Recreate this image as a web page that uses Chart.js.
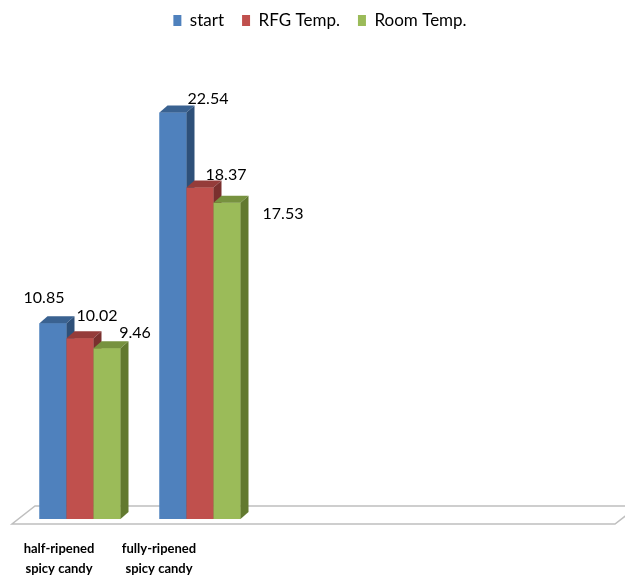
<!DOCTYPE html>
<html lang="en">
<head>
    <meta charset="UTF-8">
    <title>Spicy candy</title>
    <script src="https://cdn.jsdelivr.net/npm/chart.js"></script>
    <style>
        body {
            margin: 0;
            padding: 0;
            background: #fff;
        }

        .chart-box {
            width: 625px;
            height: 575px;
        }
    </style>
</head>
<body>
<div class="chart-box">
    <canvas id="candy-chart" width="625" height="575"></canvas>
</div>

<script>
    // data
    const categories = [['half-ripened', 'spicy candy'], ['fully-ripened', 'spicy candy'], '', '', ''];
    const seriesNames = ['start', 'RFG Temp.', 'Room Temp.'];
    const startValues = [10.85, 22.54];
    const rfgValues = [10.02, 18.37];
    const roomValues = [9.46, 17.53];

    const frontColors = ['#4F81BD', '#C0504D', '#9BBB59'];
    const topColors = ['#3A6291', '#953C3A', '#77923F'];
    const sideColors = ['#2E5079', '#7A302E', '#62792F'];

    // where Excel put the value labels, relative to the bar top
    const labelOffsets = [
        [[-9, -25], [35, -14]],
        [[17, -22], [26, -13]],
        [[28, -15], [56, 11]]
    ];

    const DEPTH_X = 8;
    const DEPTH_Y = 7;
    const FONT = 'Lato, "Open Sans", sans-serif';

    function poly(ctx, pts, fill) {
        ctx.beginPath();
        ctx.moveTo(pts[0][0], pts[0][1]);
        for (let i = 1; i < pts.length; i++) ctx.lineTo(pts[i][0], pts[i][1]);
        ctx.closePath();
        ctx.fillStyle = fill;
        ctx.fill();
    }

    const floorPlugin = {
        id: 'floor',
        beforeDatasetsDraw(chart) {
            const { ctx, chartArea } = chart;
            const l = chartArea.left, r = chartArea.right, b = chartArea.bottom;
            ctx.save();
            ctx.beginPath();
            ctx.moveTo(l - 8, b + 5);
            ctx.lineTo(r - 5, b + 5);
            ctx.lineTo(r + 18, b - 13);
            ctx.lineTo(l + 15, b - 13);
            ctx.closePath();
            ctx.fillStyle = '#ffffff';
            ctx.fill();
            ctx.strokeStyle = '#bfbfbf';
            ctx.lineWidth = 1.5;
            ctx.stroke();
            ctx.restore();
        }
    };

    const barsPlugin = {
        id: 'bars3d',
        afterDatasetsDraw(chart) {
            const ctx = chart.ctx;
            ctx.save();
            chart.data.datasets.forEach((ds, i) => {
                chart.getDatasetMeta(i).data.forEach(bar => {
                    const p = bar.getProps(['x', 'y', 'base', 'width'], true);
                    const x0 = p.x - p.width / 2, x1 = p.x + p.width / 2;
                    poly(ctx, [[x0, p.y], [x1, p.y], [x1, p.base], [x0, p.base]], frontColors[i]);
                    poly(ctx, [[x0, p.y], [x0 + DEPTH_X, p.y - DEPTH_Y], [x1 + DEPTH_X, p.y - DEPTH_Y], [x1, p.y]], topColors[i]);
                    poly(ctx, [[x1, p.y], [x1 + DEPTH_X, p.y - DEPTH_Y], [x1 + DEPTH_X, p.base - DEPTH_Y], [x1, p.base]], sideColors[i]);
                });
            });

            ctx.fillStyle = '#000';
            ctx.font = '16px ' + FONT;
            ctx.textAlign = 'center';
            ctx.textBaseline = 'middle';
            chart.data.datasets.forEach((ds, i) => {
                chart.getDatasetMeta(i).data.forEach((bar, j) => {
                    const off = labelOffsets[i][j];
                    ctx.fillText(ds.data[j].toFixed(2), bar.x + off[0], bar.y + off[1]);
                });
            });
            ctx.restore();
        }
    };

    const legendSpace = {
        id: 'legendSpace',
        beforeInit(chart) {
            const fit = chart.legend.fit;
            chart.legend.fit = function () {
                fit.call(this);
                this.height += 29;
            };
        }
    };

    function drawChart() {
        const ctx = document.getElementById('candy-chart').getContext('2d');
        const series = [startValues, rfgValues, roomValues];

        new Chart(ctx, {
            type: 'bar',
            data: {
                labels: categories,
                datasets: series.map((vals, i) => ({
                    label: seriesNames[i],
                    data: vals,
                    backgroundColor: frontColors[i],
                    borderWidth: 0,
                    barPercentage: 1,
                    categoryPercentage: 0.675
                }))
            },
            options: {
                responsive: false,
                animation: false,
                layout: {
                    padding: { left: 20, right: 5, top: -6, bottom: 0 }
                },
                plugins: {
                    tooltip: { enabled: false },
                    legend: {
                        position: 'top',
                        labels: {
                            boxWidth: 8,
                            boxHeight: 11,
                            padding: 18,
                            color: '#000',
                            font: { family: FONT, size: 17 }
                        }
                    }
                },
                scales: {
                    x: {
                        display: false
                    },
                    // the 3D projection pulls the category names left of the bars,
                    // so they sit on their own, slightly narrower category axis
                    catNames: {
                        type: 'category',
                        position: 'bottom',
                        labels: categories.concat(['']),
                        offset: true,
                        grid: { display: false },
                        border: { display: false },
                        afterFit(scale) {
                            scale.height = 56;
                        },
                        ticks: {
                            color: '#000',
                            padding: 11,
                            labelOffset: -11,
                            maxRotation: 0,
                            autoSkip: false,
                            font: { family: FONT, size: 13, weight: 'bold', lineHeight: 1.6 }
                        }
                    },
                    y: {
                        display: false,
                        min: 0,
                        max: 25
                    }
                }
            },
            plugins: [legendSpace, floorPlugin, barsPlugin]
        });
    }

    document.addEventListener('DOMContentLoaded', drawChart);
</script>

</body>
</html>
